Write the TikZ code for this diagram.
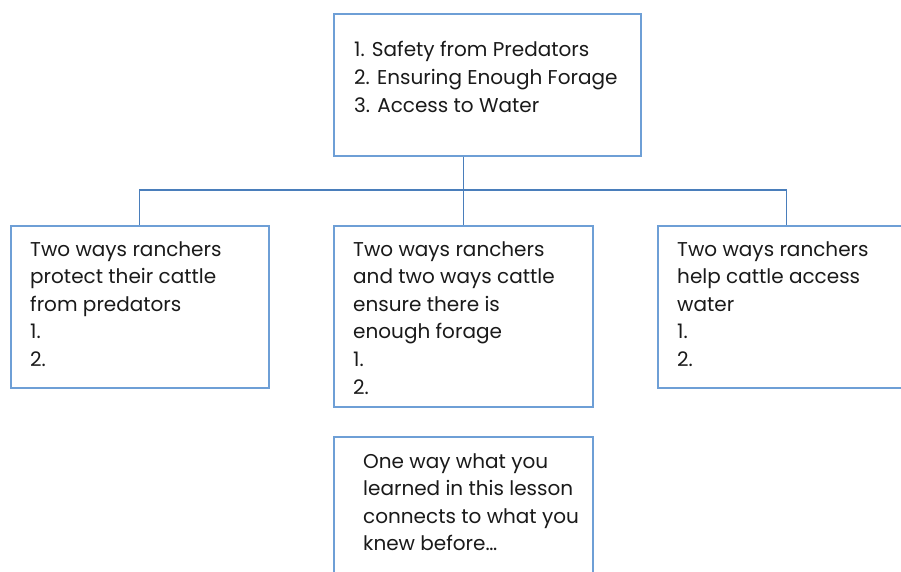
\documentclass[tikz,border=0pt]{standalone}
\usepackage{fontspec}
\setmainfont{Poppins}
\definecolor{boxline}{HTML}{6E9FD6}
\definecolor{conline}{HTML}{4A7EBB}
\definecolor{ink}{HTML}{1A1A1A}
\begin{document}
\begin{tikzpicture}[x=1pt,y=1pt,
  box/.style={draw=boxline, line width=1.6pt, fill=white, inner sep=0pt, anchor=north west},
  label/.style={anchor=base west, inner sep=0pt, align=left, text=ink,
    font=\fontsize{20}{27.6}\selectfont},
  conn/.style={draw=conline, line width=1.3pt}]
\useasboundingbox (0,0) rectangle (901,571);
\clip (0,0) rectangle (901,571);
\fill[white] (0,0) rectangle (901,571);
% boxes
\node[box, minimum width=307pt, minimum height=142pt] (top) at (333,558) {};
\node[box, minimum width=258pt, minimum height=162pt] (left) at (10,346) {};
\node[box, minimum width=259pt, minimum height=181pt] (mid) at (333,346) {};
\node[box, minimum width=258pt, minimum height=162pt] (right) at (657,346) {};
\node[box, minimum width=259pt, minimum height=170pt] (bot) at (333,135) {};
% connectors
\coordinate (hub) at (mid.north |- 0,381);
\draw[conn] (mid.north |- top.south) -- (mid.north);
\draw[conn] (left.north) |- (hub) -| (right.north);
% texts (anchored at the baseline of the last line)
\node[label] (ttop) at ([xshift=21pt, yshift=-99.2pt] top.north west)
  {1. Safety from Predators\\2. Ensuring Enough Forage\\3. Access to Water};
\node[label] (tleft) at ([xshift=20pt, yshift=-141.4pt] left.north west)
  {Two ways ranchers\\protect their cattle\\from predators\\1.\\2.};
\node[label] (tmid) at ([xshift=20pt, yshift=-169pt] mid.north west)
  {Two ways ranchers\\and two ways cattle\\ensure there is\\enough forage\\1.\\2.};
\node[label] (tright) at ([xshift=20pt, yshift=-141.4pt] right.north west)
  {Two ways ranchers\\help cattle access\\water\\1.\\2.};
\node[label] (tbot) at ([xshift=30pt, yshift=-114.8pt] bot.north west)
  {One way what you\\learned in this lesson\\connects to what you\\knew before…};
\end{tikzpicture}
\end{document}
